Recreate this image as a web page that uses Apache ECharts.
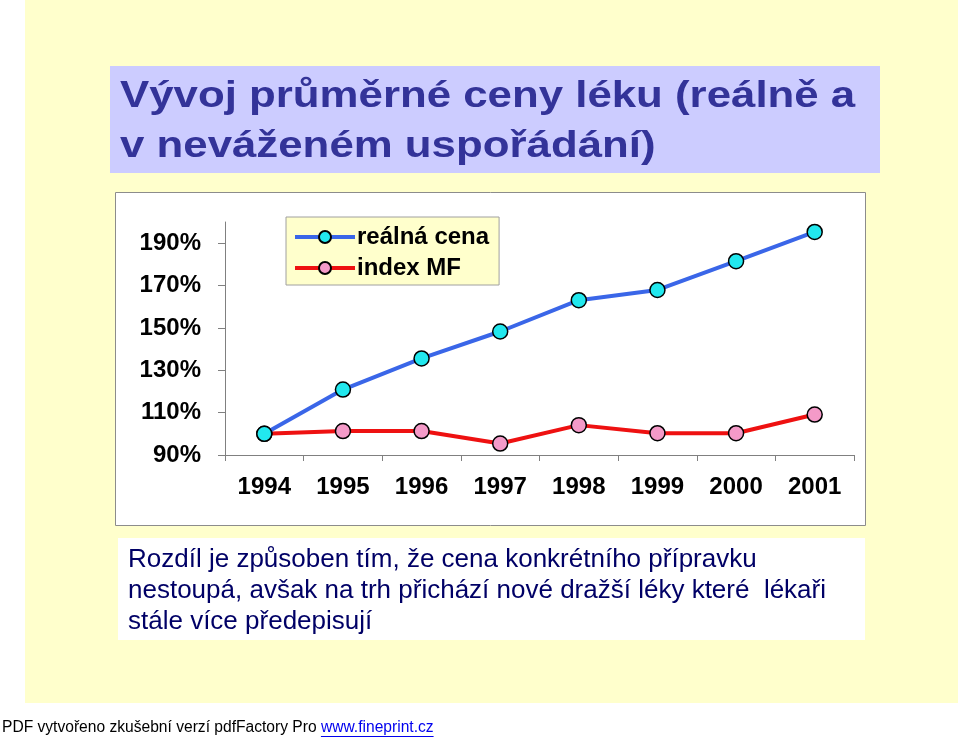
<!DOCTYPE html>
<html>
<head>
<meta charset="utf-8">
<script src="https://cdn.jsdelivr.net/npm/echarts@6/dist/echarts.min.js"></script>
<style>
html,body{margin:0;padding:0;background:#fff;}
#chart{width:959px;height:738px;}
</style>
</head>
<body>
<div id="chart"></div>
<script>
var years = ['1994','1995','1996','1997','1998','1999','2000','2001'];
var realnaCena = [100, 120.9, 135.6, 148.3, 163.1, 167.9, 181.5, 195.3];
var indexMF = [100, 101.3, 101.3, 95.4, 104.1, 100.3, 100.3, 109.1];
var yTicks = [90, 110, 130, 150, 170, 190];
var titleLines = ['Vývoj průměrné ceny léku (reálně a', 'v neváženém uspořádání)'];
var noteLines = ['Rozdíl je způsoben tím, že cena konkrétního přípravku',
                 'nestoupá, avšak na trh přichází nové dražší léky které  lékaři',
                 'stále více předepisují'];
var footerText = 'PDF vytvořeno zkušební verzí pdfFactory Pro ';
var footerLink = 'www.fineprint.cz';

var chart = echarts.init(document.getElementById('chart'), null, {renderer:'canvas'});
var F = '"Liberation Sans", Arial, sans-serif';

var graphics = [
  {type:'rect', shape:{x:25,y:0,width:933,height:703}, style:{fill:'#FFFFCC'}, z:-20},
  {type:'rect', shape:{x:110,y:66,width:770,height:107}, style:{fill:'#CCCCFF'}, z:-10},
  {type:'rect', shape:{x:115.5,y:192.5,width:750,height:333}, style:{fill:'#FFFFFF', stroke:'#8C8C8C', lineWidth:1}, z:-10},
  {type:'rect', shape:{x:118,y:538,width:747,height:102}, style:{fill:'#FFFFFF'}, z:-10},
  {type:'text', x:120, y:97, scaleX:1.2, style:{text:titleLines[0], font:'bold 36.5px '+F, fill:'#333399', verticalAlign:'middle'}, z:1},
  {type:'text', x:120, y:147, scaleX:1.2, style:{text:titleLines[1], font:'bold 36.5px '+F, fill:'#333399', verticalAlign:'middle'}, z:1},
  {type:'text', x:128, y:560, style:{text:noteLines[0], font:'26px '+F, fill:'#000066', verticalAlign:'middle'}, z:1},
  {type:'text', x:128, y:591, style:{text:noteLines[1], font:'26px '+F, fill:'#000066', verticalAlign:'middle'}, z:1},
  {type:'text', x:128, y:622, style:{text:noteLines[2], font:'26px '+F, fill:'#000066', verticalAlign:'middle'}, z:1},
  {type:'text', x:2, y:728, style:{text:footerText, font:'15.6px '+F, fill:'#000000', verticalAlign:'middle'}, z:1}
];

var option = {
  animation:false,
  backgroundColor:'#ffffff',
  graphic:{elements:graphics},
  grid:{left:225, right:105, top:222, bottom:283, containLabel:false},
  legend:{
    orient:'vertical', left:286, top:217,
    backgroundColor:'#FFFFCC', borderColor:'#A0A0A0', borderWidth:1,
    padding:[8,10,5,7], itemGap:7, itemWidth:60, itemHeight:15,
    textStyle:{fontFamily:F, fontWeight:'bold', fontSize:24, color:'#000', padding:[0,0,0,-3]},
    data:[
      {name:'reálná cena', lineStyle:{width:4}},
      {name:'index MF', lineStyle:{width:4}}
    ]
  },
  xAxis:{
    type:'category', data:years, boundaryGap:true,
    axisLine:{lineStyle:{color:'#808080', width:1}},
    axisTick:{show:true, length:6, lineStyle:{color:'#808080'}},
    axisLabel:{fontFamily:F, fontWeight:'bold', fontSize:24, color:'#000', margin:20}
  },
  yAxis:{
    type:'value', min:90, max:200,
    axisLine:{show:true, lineStyle:{color:'#808080', width:1}},
    axisTick:{show:true, length:7, lineStyle:{color:'#808080'}, customValues:yTicks},
    axisLabel:{fontFamily:F, fontWeight:'bold', fontSize:24, color:'#000', margin:24, customValues:yTicks,
      formatter:function(v){return v+'%';}},
    splitLine:{show:false}
  },
  series:[
    {name:'reálná cena', type:'line', data:realnaCena, symbol:'circle', symbolSize:15,
     lineStyle:{color:'#3A66E8', width:4},
     itemStyle:{color:'#22E8EE', borderColor:'#000', borderWidth:1.5}, z:3},
    {name:'index MF', type:'line', data:indexMF, symbol:'circle', symbolSize:15,
     lineStyle:{color:'#EE1111', width:4},
     itemStyle:{color:'#F49AC8', borderColor:'#000', borderWidth:1.5}, z:2}
  ]
};
chart.setOption(option);

var ctx = document.createElement('canvas').getContext('2d');
ctx.font = '15.6px ' + F;
var w = ctx.measureText(footerText).width;
var lw = ctx.measureText(footerLink).width;
graphics.push({type:'text', x:2+w, y:728, style:{text:footerLink, font:'15.6px '+F, fill:'#0000EE', verticalAlign:'middle'}, z:1});
graphics.push({type:'line', shape:{x1:2+w, y1:736.5, x2:2+w+lw, y2:736.5}, style:{stroke:'#0000EE', lineWidth:1}, z:1});
chart.setOption({graphic:{elements:graphics}}, {replaceMerge:['graphic']});
</script>
</body>
</html>
